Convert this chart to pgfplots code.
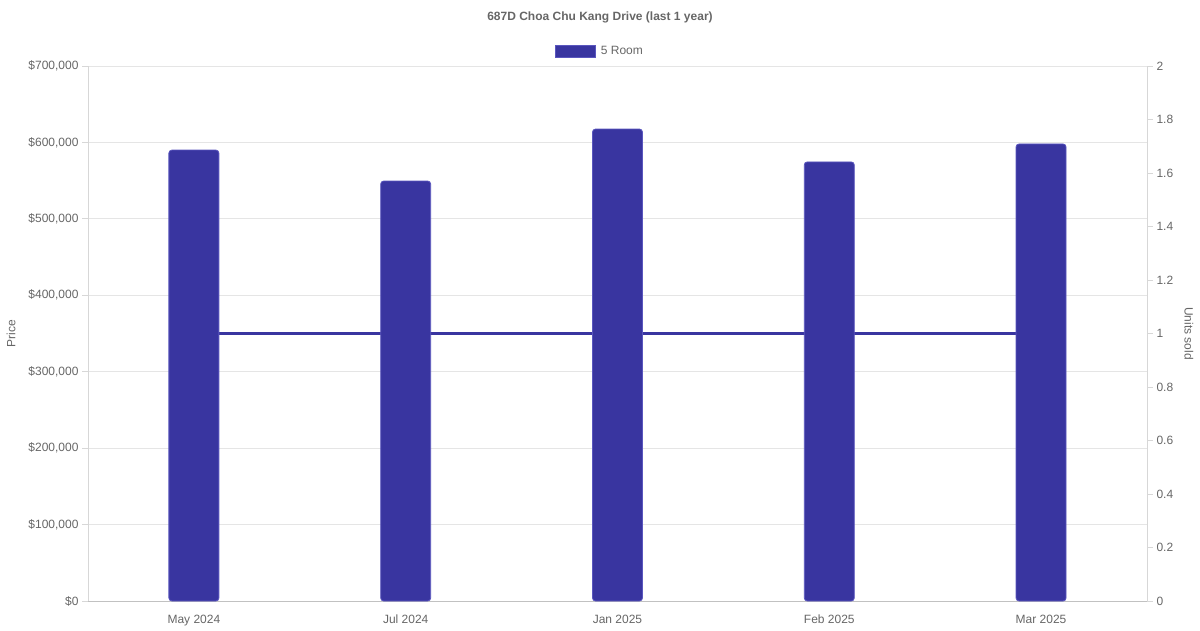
\documentclass[border=0pt]{standalone}
\usepackage{pgfplots}
\pgfplotsset{compat=1.18}
\usepackage{fontspec}
\setmainfont{Liberation Sans}
\definecolor{barcol}{RGB}{57,53,160}
\definecolor{baredge}{RGB}{90,86,190}
\definecolor{txt}{RGB}{102,102,102}
\definecolor{gridc}{RGB}{229,229,229}
\definecolor{axc}{RGB}{215,215,215}
\begin{document}
\begin{tikzpicture}[x=1pt,y=1pt]
\path[use as bounding box] (0,0) rectangle (1200,630);
\pgfplotsset{
  common/.style={
    at={(88pt,29pt)}, anchor=south west,
    width=1059pt, height=535pt, scale only axis,
    xmin=-0.5, xmax=4.5,
    tick align=outside, major tick length=6pt,
    tick style={draw=axc, line width=0.8pt},
    every tick label/.append style={font=\fontsize{12}{14}\selectfont, text=txt},
    /pgf/number format/assume math mode=true,
  }
}
% right axis: units sold (line)
\begin{axis}[common,
  ymin=0, ymax=2,
  axis y line*=right, axis x line=none,
  y axis line style={draw=axc, line width=0.8pt},
  ytick={0,0.2,0.4,0.6,0.8,1,1.2,1.4,1.6,1.8,2},
  yticklabel style={/pgf/number format/fixed},
  ylabel={Units sold},
  every axis y label/.style={at={(axis description cs:1.0397,0.5)}, rotate=-90, anchor=center,
    font=\fontsize{12}{14}\selectfont, text=txt},
]
\addplot[barcol, line width=3pt] coordinates {(0,1) (1,1) (2,1) (3,1) (4,1)};
\end{axis}
% left axis: price (bars)
\begin{axis}[common,
  ybar, bar width=50pt,
  ymin=0, ymax=700000,
  axis y line*=left, axis x line*=bottom,
  axis line style={draw=axc, line width=0.8pt},
  x axis line style={draw=axc!90!black},
  ytick={0,100000,200000,300000,400000,500000,600000,700000},
  scaled y ticks=false,
  yticklabel={\$\pgfmathprintnumber[fixed,precision=0,1000 sep={,}]{\tick}},
  xtick={0,1,2,3,4},
  xticklabels={May 2024,Jul 2024,Jan 2025,Feb 2025,Mar 2025},
  xticklabel style={text height=9pt, text depth=3pt, yshift=-4pt},
  x tick style={draw=none},
  ymajorgrids, grid style={draw=gridc, line width=0.8pt},
  ylabel={Price},
  every axis y label/.style={at={(axis description cs:-0.0727,0.5)}, rotate=90, anchor=center,
    font=\fontsize{12}{14}\selectfont, text=txt},
  legend style={at={(axis description cs:0.4835,1.028)}, anchor=center, draw=none, fill=none,
    font=\fontsize{12}{14}\selectfont, text=txt,
    /tikz/every even column/.append style={column sep=4pt}},
]
\addplot[fill=barcol, draw=baredge, line width=0.8pt, bar shift=0pt, rounded corners=3pt,
  legend image code/.code={\draw[sharp corners, fill=barcol, draw=baredge, line width=0.8pt] (0pt,-6pt) rectangle (40pt,6pt); \path (43pt,0pt);}]
  coordinates {(0,590000) (1,549500) (2,617500) (3,574500) (4,598000)};
\addlegendentry{5 Room}
\end{axis}
\node[font=\bfseries\fontsize{12}{14}\selectfont, text=txt] at (600,613) {687D Choa Chu Kang Drive (last 1 year)};
\end{tikzpicture}
\end{document}
